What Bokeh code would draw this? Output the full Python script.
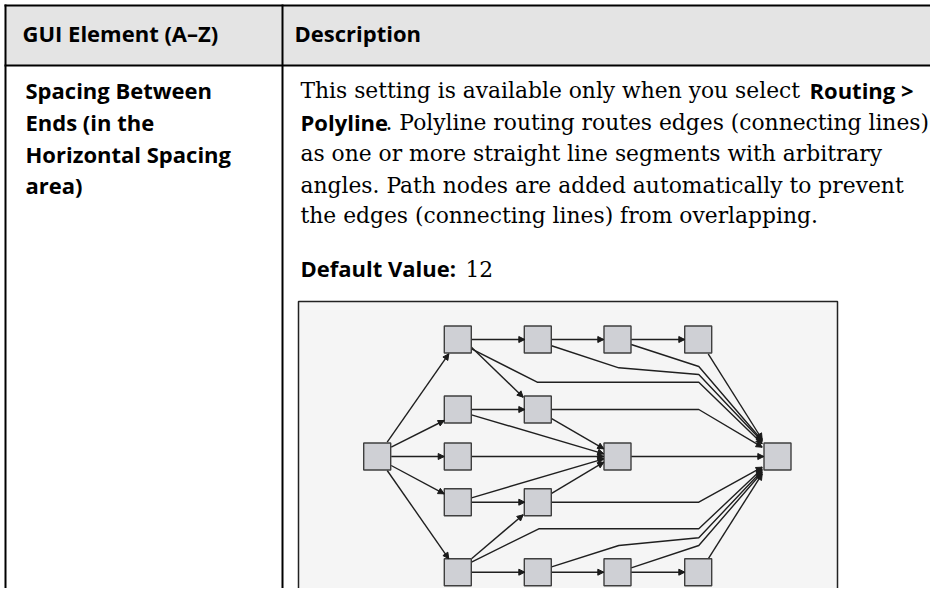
from bokeh.plotting import figure
from bokeh.models import Range1d, ColumnDataSource, Arrow, NormalHead
from bokeh.core.properties import value
from bokeh.embed import file_html
from bokeh.resources import INLINE

# ---------------- table texts ----------------
header_labels = ["GUI Element (A–Z)", "Description"]
element_lines = ["Spacing Between", "Ends (in the", "Horizontal Spacing", "area)"]
desc_line1 = "This setting is available only when you select"
desc_line1_bold = "Routing >"
desc_line2_bold = "Polyline"
desc_line2 = ". Polyline routing routes edges (connecting lines)"
desc_lines_rest = [
    "as one or more straight line segments with arbitrary",
    "angles. Path nodes are added automatically to prevent",
    "the edges (connecting lines) from overlapping.",
]
default_label = "Default Value:"
default_value = "12"

# ---------------- diagram (graph) ----------------
col_x = [376.7, 457.3, 537.3, 617.0, 697.7, 777.0]
row_y = [339.0, 409.0, 456.0, 501.7, 571.7]
node_col = [0, 1, 1, 1, 1, 1, 2, 2, 2, 2, 3, 3, 3, 4, 4, 5]
node_row = [2, 0, 1, 2, 3, 4, 0, 1, 3, 4, 0, 2, 4, 0, 4, 2]

edge_paths = [
    [(386.7, 441.7), (448.3, 353.3)],
    [(390.7, 446.7), (443.7, 420.0)],
    [(390.7, 456.0), (443.7, 456.0)],
    [(390.7, 465.0), (443.7, 493.3)],
    [(386.7, 470.0), (448.3, 558.3)],
    [(471.0, 339.0), (524.3, 339.0)],
    [(550.3, 339.0), (603.3, 339.0)],
    [(630.7, 339.0), (684.3, 339.0)],
    [(471.0, 346.7), (522.7, 396.7)],
    [(471.0, 348.3), (536.7, 381.7), (698.3, 381.7), (761.7, 443.3)],
    [(550.3, 345.0), (618.3, 367.3), (698.3, 374.0), (761.7, 441.0)],
    [(630.7, 344.0), (698.3, 366.0), (761.7, 440.0)],
    [(707.7, 353.3), (761.7, 439.0)],
    [(471.0, 409.0), (524.3, 409.0)],
    [(471.0, 414.3), (603.3, 453.3)],
    [(550.3, 409.0), (698.3, 409.0), (761.7, 446.7)],
    [(550.3, 417.7), (603.3, 448.3)],
    [(471.0, 456.0), (603.3, 456.0)],
    [(630.7, 456.0), (763.3, 456.0)],
    [(471.0, 497.3), (603.3, 458.3)],
    [(471.0, 501.7), (524.3, 501.7)],
    [(550.3, 493.3), (603.3, 461.7)],
    [(550.3, 501.7), (698.3, 501.7), (761.7, 466.7)],
    [(471.0, 558.3), (522.7, 514.3)],
    [(471.0, 561.7), (538.3, 528.3), (698.3, 528.3), (761.7, 468.3)],
    [(471.0, 571.7), (524.3, 571.7)],
    [(550.3, 566.7), (618.3, 545.0), (698.3, 537.3), (761.7, 470.0)],
    [(630.7, 567.3), (698.3, 545.0), (761.7, 471.7)],
    [(550.3, 571.7), (603.3, 571.7)],
    [(630.7, 571.7), (684.3, 571.7)],
    [(707.7, 558.3), (761.7, 473.3)],
]

W, H = 930, 588
NODE = 27.0
SANS = value("Open Sans")
SERIF = value("DejaVu Serif")
SANS_SIZE = "22px"
SERIF_SIZE = "21.8px"
SANS_DY = -8   # rendering offset of the alphabetic baseline
SERIF_DY = -7

p = figure(width=W, height=H, output_backend="svg", toolbar_location=None,
           x_range=Range1d(0, W), y_range=Range1d(H, 0),
           min_border=0, x_axis_location=None, y_axis_location=None)
p.grid.visible = False
p.outline_line_color = None
p.background_fill_color = "white"
p.border_fill_color = "white"

# header background
p.quad(left=[5], right=[W], top=[5], bottom=[65], fill_color="#e4e4e4", line_color=None)
# table rules
p.segment(x0=[4, 4, 5, 282], y0=[5, 65, 4, 4], x1=[W, W, 5, 282], y1=[5, 65, H, H],
          line_color="black", line_width=2)

# header texts
p.text(x=[22, 294], y=[40 + SANS_DY] * 2, text=header_labels, text_font=SANS, text_font_style="bold",
       text_font_size=SANS_SIZE, text_color="black", text_baseline="alphabetic")

# element column
p.text(x=[25] * len(element_lines), y=[b + SANS_DY for b in [97, 129, 161, 192]], text=element_lines,
       text_font=SANS, text_font_style="bold", text_font_size=SANS_SIZE, text_color="black",
       text_baseline="alphabetic")

# description
p.text(x=[300], y=[97 + SERIF_DY], text=[desc_line1], text_font=SERIF, text_font_size=SERIF_SIZE,
       text_color="black", text_baseline="alphabetic")
p.text(x=[809, 300], y=[97 + SANS_DY, 129 + SANS_DY], text=[desc_line1_bold, desc_line2_bold],
       text_font=SANS, text_font_style="bold", text_font_size=SANS_SIZE, text_color="black",
       text_baseline="alphabetic")
p.text(x=[385, 300, 300, 300], y=[b + SERIF_DY for b in [129, 160, 192, 222]],
       text=[desc_line2] + desc_lines_rest, text_font=SERIF, text_font_size=SERIF_SIZE,
       text_color="black", text_baseline="alphabetic")
p.text(x=[300], y=[275 + SANS_DY], text=[default_label], text_font=SANS, text_font_style="bold",
       text_font_size=SANS_SIZE, text_color="black", text_baseline="alphabetic")
p.text(x=[465], y=[275 + SERIF_DY], text=[default_value], text_font=SERIF, text_font_size=SERIF_SIZE,
       text_color="black", text_baseline="alphabetic")

# diagram frame
p.quad(left=[298], right=[837], top=[301], bottom=[593], fill_color="#f5f5f5",
       line_color="#222222", line_width=1.5)

# edges
xs = [[pt[0] for pt in path] for path in edge_paths]
ys = [[pt[1] for pt in path] for path in edge_paths]
p.multi_line(xs=xs, ys=ys, line_color="#1f1f1f", line_width=1.4)

heads = ColumnDataSource(dict(
    x0=[path[-2][0] for path in edge_paths], y0=[path[-2][1] for path in edge_paths],
    x1=[path[-1][0] for path in edge_paths], y1=[path[-1][1] for path in edge_paths]))
p.add_layout(Arrow(x_start="x0", y_start="y0", x_end="x1", y_end="y1", source=heads,
                   line_alpha=0,
                   end=NormalHead(size=6, fill_color="#1a1a1a", line_color="#1a1a1a", line_width=1)))

# nodes
nx = [col_x[c] for c in node_col]
ny = [row_y[r] for r in node_row]
p.quad(left=[x - NODE / 2 for x in nx], right=[x + NODE / 2 for x in nx],
       top=[y - NODE / 2 for y in ny], bottom=[y + NODE / 2 for y in ny],
       fill_color="#cfd0d5", line_color="#3f3f3f", line_width=1.4)

open("out.html", "w").write(file_html(p, INLINE))
